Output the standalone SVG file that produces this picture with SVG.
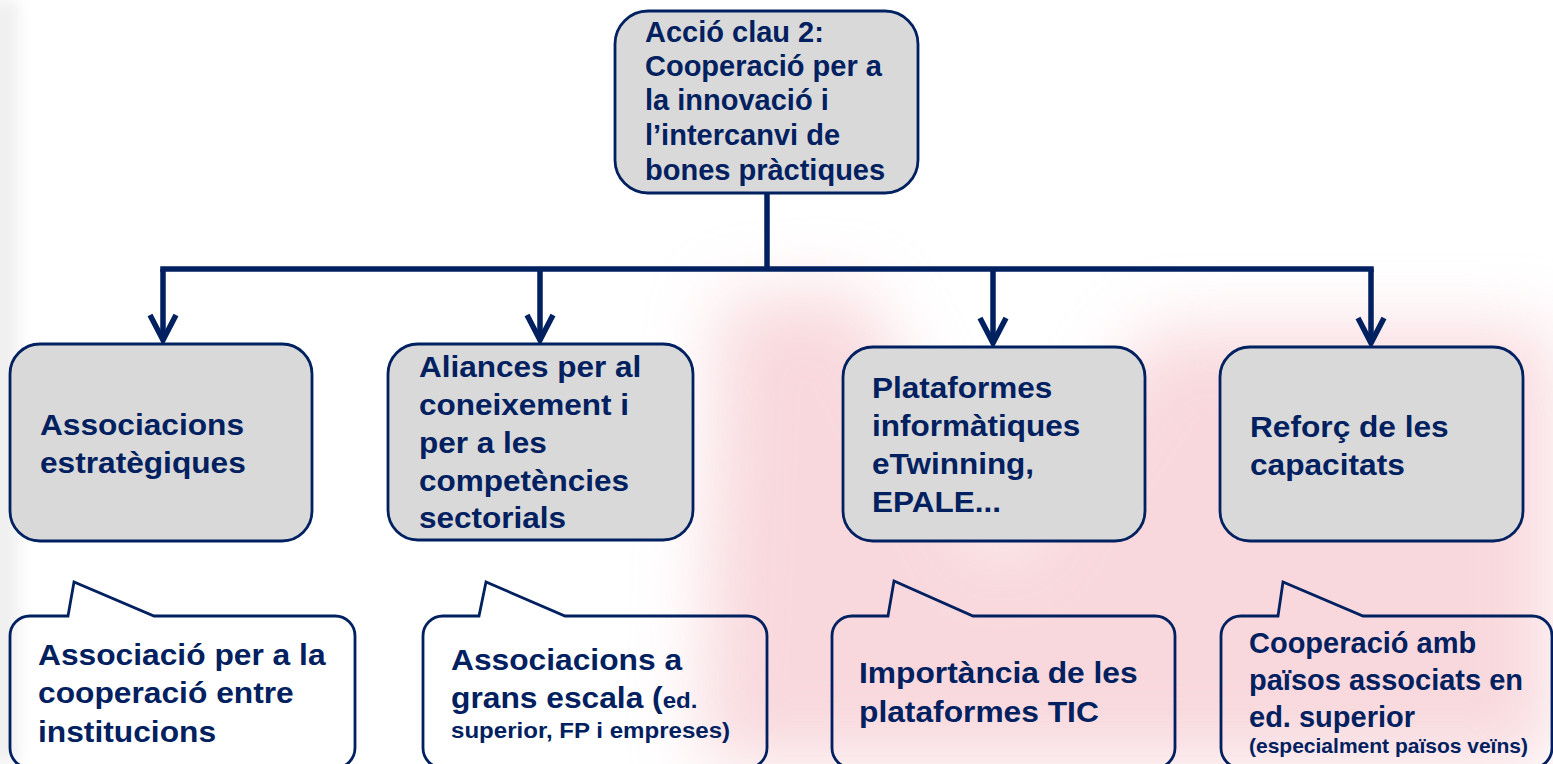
<svg xmlns="http://www.w3.org/2000/svg" width="1553" height="764" viewBox="0 0 1553 764">
<defs>
<style>
.box{fill:#d9d9d9;stroke:#002060;stroke-width:2.8}
.call{fill:none;stroke:#002060;stroke-width:2.8;stroke-linejoin:miter}
.ln{fill:none;stroke:#002060;stroke-width:5.5}
.t{font-family:"Liberation Sans",Arial,sans-serif;font-weight:bold;fill:#002060}
.t29{font-size:29px}
.t30{font-size:30px}
.sm{font-size:22px}
.xs{font-size:21px}
</style>
<marker id="arr" markerUnits="userSpaceOnUse" markerWidth="40" markerHeight="40" refX="0" refY="0" viewBox="-30 -20 40 40" orient="auto" overflow="visible">
<path d="M-25,-13 L0,0 L-25,13" fill="none" stroke="#002060" stroke-width="5.5" stroke-linejoin="miter"/>
</marker>
<filter id="blur" x="-50%" y="-50%" width="200%" height="200%"><feGaussianBlur stdDeviation="35"/></filter>
<filter id="blur2" x="-50%" y="-50%" width="200%" height="200%"><feGaussianBlur stdDeviation="8"/></filter>
</defs>
<rect width="1553" height="764" fill="#ffffff"/>
<g id="background">
<rect x="-10" y="0" width="28" height="764" fill="#efefef" filter="url(#blur2)"/>
<g filter="url(#blur)" opacity="0.55">
<path d="M720,300 L860,290 L1000,560 L1150,330 L1553,330 L1553,764 L700,764 Z" fill="#f3b9c1"/>
</g>
</g>
<g id="connectors">
<path class="ln" d="M767,193 V269"/>
<path class="ln" d="M163,269 H1371" stroke-linecap="square"/>
<path class="ln" d="M163,269 V340" marker-end="url(#arr)"/>
<path class="ln" d="M540,269 V340" marker-end="url(#arr)"/>
<path class="ln" d="M993,269 V343" marker-end="url(#arr)"/>
<path class="ln" d="M1371,269 V343" marker-end="url(#arr)"/>
</g>
<g id="n-top">
<rect class="box" x="615" y="11" width="303" height="182" rx="33"/>
<text class="t t29"><tspan x="645" y="42">Acció clau 2:</tspan><tspan x="645" y="76">Cooperació per a</tspan><tspan x="645" y="110">la innovació i</tspan><tspan x="645" y="145">l’intercanvi de</tspan><tspan x="645" y="180">bones pràctiques</tspan></text>
</g>
<g id="n-assoc">
<rect class="box" x="10" y="344" width="302" height="197" rx="30"/>
<text class="t t30" transform="translate(40 0) scale(1.055 1)"><tspan x="0" y="435">Associacions</tspan><tspan x="0" y="473">estratègiques</tspan></text>
</g>
<g id="n-alian">
<rect class="box" x="388" y="344" width="305" height="196" rx="30"/>
<text class="t t30" transform="translate(419 0) scale(1.05 1)"><tspan x="0" y="377">Aliances per al</tspan><tspan x="0" y="415">coneixement i</tspan><tspan x="0" y="453">per a les</tspan><tspan x="0" y="491">competències</tspan><tspan x="0" y="528">sectorials</tspan></text>
</g>
<g id="n-plat">
<rect class="box" x="843" y="347" width="302" height="194" rx="30"/>
<text class="t t30" transform="translate(872 0) scale(1.05 1)"><tspan x="0" y="398">Plataformes</tspan><tspan x="0" y="436">informàtiques</tspan><tspan x="0" y="474">eTwinning,</tspan><tspan x="0" y="512">EPALE...</tspan></text>
</g>
<g id="n-refor">
<rect class="box" x="1220" y="347" width="303" height="194" rx="30"/>
<text class="t t30" transform="translate(1250 0) scale(1.055 1)"><tspan x="0" y="437">Reforç de les</tspan><tspan x="0" y="475">capacitats</tspan></text>
</g>
<g id="c1">
<path class="call" d="M68,616 L74,582 L154,616 H335 A20,20 0 0 1 355,636 V748 A20,20 0 0 1 335,768 H30 A20,20 0 0 1 10,748 V636 A20,20 0 0 1 30,616 Z"/>
<text class="t t29" transform="translate(38 0) scale(1.095 1)"><tspan x="0" y="665">Associació per a la</tspan><tspan x="0" y="703">cooperació entre</tspan><tspan x="0" y="742">institucions</tspan></text>
</g>
<g id="c2">
<path class="call" d="M479,616 L486,582 L565,616 H747 A20,20 0 0 1 767,636 V748 A20,20 0 0 1 747,768 H443 A20,20 0 0 1 423,748 V636 A20,20 0 0 1 443,616 Z"/>
<text class="t t29" transform="translate(451 0) scale(1.095 1)"><tspan x="0" y="670">Associacions a</tspan><tspan x="0" y="708">grans escala (<tspan class="sm">ed.</tspan></tspan><tspan class="sm" x="0" y="738">superior, FP i empreses)</tspan></text>
</g>
<g id="c3">
<path class="call" d="M888,616 L894,581 L973,616 H1155 A20,20 0 0 1 1175,636 V748 A20,20 0 0 1 1155,768 H852 A20,20 0 0 1 832,748 V636 A20,20 0 0 1 852,616 Z"/>
<text class="t t29" transform="translate(859 0) scale(1.095 1)"><tspan x="0" y="683">Importància de les</tspan><tspan x="0" y="722">plataformes TIC</tspan></text>
</g>
<g id="c4">
<path class="call" d="M1278,616 L1283,582 L1363,616 H1532 A20,20 0 0 1 1552,636 V748 A20,20 0 0 1 1532,768 H1241 A20,20 0 0 1 1221,748 V636 A20,20 0 0 1 1241,616 Z"/>
<text class="t t29"><tspan x="1249" y="653">Cooperació amb</tspan><tspan x="1249" y="690">països associats en</tspan><tspan x="1249" y="727">ed. superior</tspan><tspan class="xs" x="1249" y="753">(especialment països veïns)</tspan></text>
</g>
</svg>
